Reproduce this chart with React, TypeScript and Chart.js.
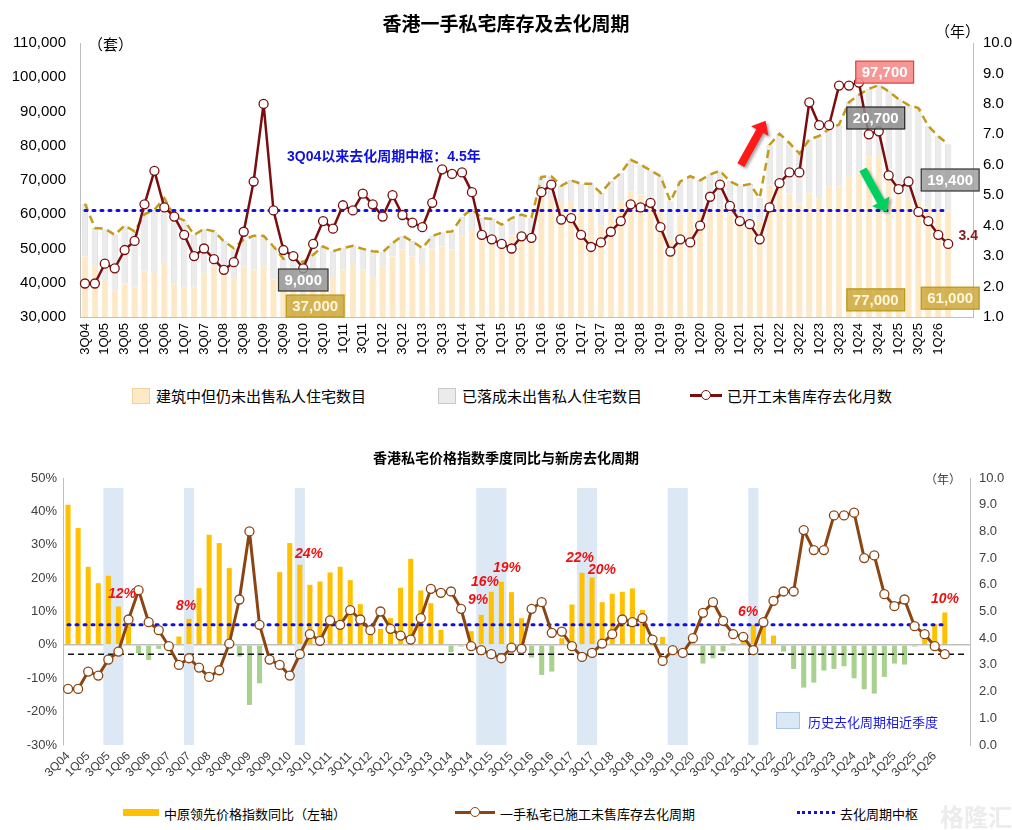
import React, { useEffect, useRef } from "react";
import { Chart, registerables } from "chart.js";
Chart.register(...registerables);

const FONT = '"Liberation Sans", "Noto Sans CJK SC", Arial, sans-serif';

const quarters = [
  "3Q04","4Q04","1Q05","2Q05","3Q05","4Q05","1Q06","2Q06","3Q06","4Q06","1Q07","2Q07","3Q07","4Q07",
  "1Q08","2Q08","3Q08","4Q08","1Q09","2Q09","3Q09","4Q09","1Q10","2Q10","3Q10","4Q10",
  "1Q11","2Q11","3Q11","4Q11","1Q12","2Q12","3Q12","4Q12","1Q13","2Q13","3Q13","4Q13",
  "1Q14","2Q14","3Q14","4Q14","1Q15","2Q15","3Q15","4Q15","1Q16","2Q16","3Q16","4Q16",
  "1Q17","2Q17","3Q17","4Q17","1Q18","2Q18","3Q18","4Q18","1Q19","2Q19","3Q19","4Q19",
  "1Q20","2Q20","3Q20","4Q20","1Q21","2Q21","3Q21","4Q21","1Q22","2Q22","3Q22","4Q22",
  "1Q23","2Q23","3Q23","4Q23","1Q24","2Q24","3Q24","4Q24","1Q25","2Q25","3Q25","4Q25",
  "1Q26","2Q26","",""
];

// years of inventory (已开工未售库存去化周期)
const cycleYears = [
  2.1,2.1,2.75,2.6,3.2,3.5,4.7,5.8,4.6,4.3,3.7,3.0,3.25,2.9,2.55,2.8,3.8,5.45,8.0,4.5,3.2,3.0,2.6,3.4,4.15,3.9,
  4.67,4.5,5.05,4.7,4.3,5.0,4.35,4.1,3.95,4.75,5.85,5.7,5.75,5.1,3.7,3.55,3.4,3.25,3.65,3.6,5.1,5.35,4.2,4.25,3.7,3.3,3.45,3.8,4.15,4.7,4.6,4.75,3.95,
  3.15,3.55,3.45,4.0,4.95,5.35,4.65,4.15,4.05,3.55,4.6,5.4,5.75,5.75,8.05,7.3,7.3,8.6,8.6,8.7,7.0,7.1,5.65,5.2,5.45,4.45,4.15,3.7,3.4
];

// 建筑中但仍未出售私人住宅数目
const underConstruction = [
  47700,45000,40700,37800,39700,38800,43600,42800,45800,39700,38800,38800,42800,44800,43800,41700,44800,43800,44800,40900,38500,37500,37000,39000,41900,41700,
  43800,45800,43800,41700,44800,47700,49700,47700,45800,49900,50600,49700,53700,55700,53700,52800,52100,53700,54500,54000,65700,64700,63300,63800,61300,60800,56700,61300,63800,66700,65700,63800,61800,
  52800,59900,60800,60400,61300,61800,59900,56700,56000,57900,68600,68900,66000,63100,66000,64700,68200,68000,71100,71800,76900,77000,73000,65700,64700,63800,62300,61300,61000
];

// total unsold (under construction + completed)
const totalUnsold = [
  63100,56000,55800,54000,56700,55000,60000,61300,64700,59400,58200,54000,55700,55000,52100,50100,52600,53700,53700,50600,47000,47700,46000,48200,50600,49200,
  50100,50800,49900,49200,48900,51600,53700,52100,50100,53600,54700,55000,59200,61500,58900,58600,57000,58900,59900,58900,70900,71100,68300,69900,68900,68900,66200,69600,72000,75900,74500,72800,71100,
  63800,69600,71100,69900,71600,72700,69600,68200,68800,64700,80300,83500,80800,77700,81800,82900,84900,86200,92700,94900,96600,97700,95900,93600,91900,91000,85700,82800,80400
];
const completedUnsold = totalUnsold.map((t, i) => t - underConstruction[i]);

// 中原领先价格指数同比 (%)
const priceYoY = [
  42,35,23.4,18.5,20.7,11.5,6,-2.5,-4.5,-1.2,0,2.5,7.8,17,33,30.5,23,-3.5,-18,-11.5,0,21.8,30.5,24,18,19,
  21.7,23.4,19.4,12.2,3,4.8,8,17.1,25.8,16.3,12.5,4.5,-2.2,-0.5,4.1,9,15.9,18.9,15.8,8,-3.8,-9,-8,2,12.1,21.6,20.2,12.8,15.3,15.9,16.9,10.5,0,
  2.4,0,0,0.5,-5.6,-4,-2,0.5,3.5,6,6.2,2.8,-2,-7.2,-12.8,-11.3,-7.7,-7.2,-6.4,-10,-13.3,-14.6,-9.6,-5.6,-5.9,-0.5,2.5,6.2,9.7
];

const pivotYears = 4.5;
const latestYears = 3.4;
const similarQuarters = [[4, 5], [12, 12], [23, 23], [41, 43], [51, 52], [60, 61], [68, 68]];

const topBoxes = [
  { i: 22, v: 40800, text: "9,000", fill: "rgba(150,150,150,0.85)", stroke: "#333", color: "#fff" },
  { i: 23.2, v: 33200, text: "37,000", fill: "rgba(205,168,60,0.85)", stroke: "#b8960c", color: "#fff6dc" },
  { i: 80.6, v: 101500, text: "97,700", fill: "rgba(245,140,140,0.9)", stroke: "#e04040", color: "#fff" },
  { i: 79.7, v: 88100, text: "20,700", fill: "rgba(140,140,140,0.85)", stroke: "#222", color: "#fff" },
  { i: 87.2, v: 70000, text: "19,400", fill: "rgba(160,160,160,0.85)", stroke: "#333", color: "#fff" },
  { i: 79.7, v: 35000, text: "77,000", fill: "rgba(205,168,60,0.85)", stroke: "#b8960c", color: "#fff6dc" },
  { i: 87.2, v: 35500, text: "61,000", fill: "rgba(205,168,60,0.85)", stroke: "#b8960c", color: "#fff6dc" },
];
const topArrows = [
  { from: [66.1, 5.99], to: [68.6, 7.45], color: "#ff1a1a" },
  { from: [78.4, 5.85], to: [80.8, 4.45], color: "#00d060" },
];

const n = cycleYears.length;
const pivotLine = quarters.map((_, i) => (i < n ? pivotYears : null));

const topPlugin = {
  id: "topDecor",
  afterDatasetsDraw(chart: any) {
    const ctx = chart.ctx;
    const x = chart.scales.x, y = chart.scales.y, y1 = chart.scales.y1;
    ctx.save();
    topArrows.forEach((a) => {
      const x0 = x.getPixelForValue(a.from[0]), y0 = y1.getPixelForValue(a.from[1]);
      const x2 = x.getPixelForValue(a.to[0]), y2 = y1.getPixelForValue(a.to[1]);
      const ang = Math.atan2(y2 - y0, x2 - x0);
      const len = Math.hypot(x2 - x0, y2 - y0);
      ctx.save();
      ctx.translate(x0, y0);
      ctx.rotate(ang);
      ctx.fillStyle = a.color;
      ctx.shadowColor = "rgba(0,0,0,0.35)";
      ctx.shadowBlur = 3; ctx.shadowOffsetX = 2; ctx.shadowOffsetY = 2;
      ctx.beginPath();
      ctx.moveTo(0, -4); ctx.lineTo(len - 12, -4); ctx.lineTo(len - 12, -10);
      ctx.lineTo(len, 0); ctx.lineTo(len - 12, 10); ctx.lineTo(len - 12, 4); ctx.lineTo(0, 4);
      ctx.closePath(); ctx.fill();
      ctx.restore();
    });
    ctx.font = `bold 15px ${FONT}`;
    ctx.textAlign = "center"; ctx.textBaseline = "middle";
    topBoxes.forEach((b) => {
      const cx = x.getPixelForValue(b.i), cy = y.getPixelForValue(b.v);
      const w = ctx.measureText(b.text).width + 12, h = 22;
      ctx.fillStyle = b.fill; ctx.fillRect(cx - w / 2, cy - h / 2, w, h);
      ctx.strokeStyle = b.stroke; ctx.lineWidth = 1.2; ctx.strokeRect(cx - w / 2, cy - h / 2, w, h);
      ctx.fillStyle = b.color; ctx.fillText(b.text, cx, cy + 1);
    });
    const lx = x.getPixelForValue(n - 1) + 20, ly = y1.getPixelForValue(cycleYears[n - 1]) - 8;
    ctx.fillStyle = "#8b1a1a"; ctx.font = `bold 14px ${FONT}`;
    ctx.fillText(String(latestYears), lx, ly);
    ctx.restore();
  },
};

const bottomPlugin = {
  id: "shade",
  beforeDatasetsDraw(chart: any) {
    const ctx = chart.ctx;
    const x = chart.scales.x, y = chart.scales.y;
    ctx.save();
    ctx.fillStyle = "#dce9f5";
    const top = y.getPixelForValue(47), bot = chart.chartArea.bottom;
    similarQuarters.forEach(([a, b]) => {
      const x0 = x.getPixelForValue(a - 0.5), x1 = x.getPixelForValue(b + 0.5);
      ctx.fillRect(x0, top, x1 - x0, bot - top);
    });
    ctx.restore();
  },
};

function TopChart() {
  const ref = useRef<HTMLCanvasElement>(null);
  useEffect(() => {
    const chart = new Chart(ref.current!, {
      type: "bar",
      data: {
        labels: quarters,
        datasets: [
          { type: "line", label: "去化", data: cycleYears, yAxisID: "y1", borderColor: "#7a0e0e", borderWidth: 2.5, borderJoinStyle: "round",
            pointRadius: 4.5, pointBackgroundColor: "#fff", pointBorderColor: "#7a0e0e", pointBorderWidth: 1.3, tension: 0, order: 0 } as any,
          { type: "line", label: "中枢", data: pivotLine, yAxisID: "y1", borderColor: "#1010e0", borderWidth: 3,
            borderDash: [2, 6], borderCapStyle: "round", pointRadius: 0, order: 1 } as any,
          { type: "line", label: "total", data: totalUnsold, yAxisID: "y", stack: "tot", borderColor: "#c49a1a", borderWidth: 2.5,
            borderDash: [8, 5], pointRadius: 0, order: 2 } as any,
          { label: "建筑中", data: underConstruction, backgroundColor: "#fde9c6", borderColor: "#f5d9a8", borderWidth: 0.5,
            stack: "a", barPercentage: 0.62, categoryPercentage: 1, order: 3 },
          { label: "已落成", data: completedUnsold, backgroundColor: "#ebebeb", borderColor: "#c8c8c8", borderWidth: 0.6,
            stack: "a", barPercentage: 0.62, categoryPercentage: 1, order: 3 },
        ],
      },
      options: {
        animation: false, responsive: false,
        layout: { padding: { top: 43, left: 0, right: 0, bottom: 0 } },
        plugins: { legend: { display: false }, tooltip: { enabled: false } },
        scales: {
          x: {
            stacked: true, grid: { display: false, drawTicks: false },
            border: { color: "#bfbfbf" },
            ticks: { autoSkip: false, minRotation: 90, maxRotation: 90, padding: 6, color: "#000",
              font: { size: 13, family: FONT },
              callback: (_v: any, i: number) => (i % 2 === 0 && i < n ? quarters[i] : "") },
            afterFit: (s: any) => { s.height = 58; },
          },
          y: {
            stacked: true, min: 30000, max: 110000, position: "left",
            grid: { display: false, drawTicks: false }, border: { color: "#bfbfbf" },
            ticks: { stepSize: 10000, padding: 14, color: "#000", font: { size: 15, family: FONT },
              callback: (v: any) => Number(v).toLocaleString("en-US") },
            afterFit: (s: any) => { s.width = 80; },
          },
          y1: {
            min: 1, max: 10, position: "right",
            grid: { display: false, drawTicks: false }, border: { color: "#bfbfbf" },
            ticks: { stepSize: 1, padding: 10, color: "#000", font: { size: 15, family: FONT },
              callback: (v: any) => Number(v).toFixed(1) },
            afterFit: (s: any) => { s.width = 39; },
          },
        },
      },
      plugins: [topPlugin],
    });
    return () => chart.destroy();
  }, []);
  return <canvas ref={ref} width={1012} height={375} style={{ position: "absolute", left: 0, top: 0 }} />;
}

function BottomChart() {
  const ref = useRef<HTMLCanvasElement>(null);
  useEffect(() => {
    const chart = new Chart(ref.current!, {
      type: "bar",
      data: {
        labels: quarters,
        datasets: [
          { type: "line", label: "去化", data: cycleYears, yAxisID: "y1", borderColor: "#8b4513", borderWidth: 3, borderJoinStyle: "round",
            pointRadius: 4.5, pointBackgroundColor: "#fff", pointBorderColor: "#8b4513", pointBorderWidth: 1.3, tension: 0, order: 0 } as any,
          { type: "line", label: "中枢", data: pivotLine, yAxisID: "y1", borderColor: "#1010e0", borderWidth: 3,
            borderDash: [2, 6], borderCapStyle: "round", pointRadius: 0, order: 1 } as any,
          { type: "line", label: "latest", data: quarters.map(() => latestYears), yAxisID: "y1", borderColor: "#111",
            borderWidth: 1.5, borderDash: [6, 4], pointRadius: 0, order: 2 } as any,
          { label: "同比", data: priceYoY, backgroundColor: priceYoY.map((v) => (v >= 0 ? "#ffc000" : "#a9d18e")),
            barPercentage: 0.5, categoryPercentage: 1, order: 3 },
        ],
      },
      options: {
        animation: false, responsive: false,
        layout: { padding: { top: 38, left: 0, right: 0, bottom: 0 } },
        plugins: { legend: { display: false }, tooltip: { enabled: false } },
        scales: {
          x: {
            grid: { display: false, drawTicks: false }, border: { display: false },
            ticks: { autoSkip: false, minRotation: 45, maxRotation: 45, padding: 4, color: "#404040",
              font: { size: 12, family: FONT },
              callback: (_v: any, i: number) => (i % 2 === 0 && i < n ? quarters[i] : "") },
            afterFit: (s: any) => { s.height = 55; },
          },
          y: {
            min: -30, max: 50, position: "left",
            grid: { drawTicks: false, color: (c: any) => (c.tick && c.tick.value === 0 ? "#bfbfbf" : "transparent"), lineWidth: 1.5 },
            border: { color: "#bfbfbf" },
            ticks: { stepSize: 10, padding: 6, color: "#404040", font: { size: 13, family: FONT },
              callback: (v: any) => `${v}%` },
            afterFit: (s: any) => { s.width = 63; },
          },
          y1: {
            min: 0, max: 10, position: "right",
            grid: { display: false, tickLength: 5, tickColor: "#bfbfbf" }, border: { color: "#bfbfbf" },
            ticks: { stepSize: 1, padding: 4, color: "#404040", font: { size: 13, family: FONT },
              callback: (v: any) => Number(v).toFixed(1) },
            afterFit: (s: any) => { s.width = 42; },
          },
        },
      },
      plugins: [bottomPlugin],
    });
    return () => chart.destroy();
  }, []);
  return <canvas ref={ref} width={1012} height={360} style={{ position: "absolute", left: 0, top: 440 }} />;
}

const redLabels = [
  { t: "12%", x: 122, y: 594 }, { t: "8%", x: 190, y: 606 }, { t: "24%", x: 309, y: 554 },
  { t: "9%", x: 482, y: 600 }, { t: "16%", x: 485, y: 582 }, { t: "19%", x: 507, y: 568 },
  { t: "22%", x: 580, y: 558 }, { t: "20%", x: 602, y: 570 }, { t: "6%", x: 752, y: 612 }, { t: "10%", x: 945, y: 599 },
];

const abs = (l: number, t: number, extra: any = {}) => ({ position: "absolute" as const, left: l, top: t, whiteSpace: "nowrap" as const, fontFamily: FONT, ...extra });

export default function App() {
  return (
    <div style={{ position: "absolute", left: 0, top: 0, width: 1012, height: 830, background: "#fff", overflow: "hidden", fontFamily: FONT }}>
      <TopChart />
      <BottomChart />
      <div style={abs(0, 9, { width: 1012, textAlign: "center", fontSize: 19, fontWeight: "bold" })}>香港一手私宅库存及去化周期</div>
      <div style={abs(88, 33, { fontSize: 15 })}>（套）</div>
      <div style={abs(935, 20, { fontSize: 15 })}>（年）</div>
      <div style={abs(287, 145, { fontSize: 14, fontWeight: "bold", color: "#1010e0" })}>3Q04以来去化周期中枢：4.5年</div>
      <div style={abs(132, 388, { width: 16, height: 14, background: "#fde9c6", border: "1px solid #f0d39a" })} />
      <div style={abs(156, 385, { fontSize: 15 })}>建筑中但仍未出售私人住宅数目</div>
      <div style={abs(438, 388, { width: 16, height: 14, background: "#ebebeb", border: "1px solid #c8c8c8" })} />
      <div style={abs(462, 385, { fontSize: 15 })}>已落成未出售私人住宅数目</div>
      <div style={abs(690, 394, { width: 32, height: 3, background: "#7a0e0e" })} />
      <div style={abs(701, 390, { width: 8, height: 8, borderRadius: 6, background: "#fff", border: "1.5px solid #7a0e0e" })} />
      <div style={abs(727, 385, { fontSize: 15 })}>已开工未售库存去化月数</div>
      <div style={abs(0, 447, { width: 1012, textAlign: "center", fontSize: 14, fontWeight: "bold" })}>香港私宅价格指数季度同比与新房去化周期</div>
      <div style={abs(925, 470, { fontSize: 12, color: "#404040" })}>（年）</div>
      {redLabels.map((r, k) => (
        <div key={k} style={abs(r.x - 14, r.y - 9, { fontSize: 14, fontWeight: "bold", fontStyle: "italic", color: "#ee1111" })}>{r.t}</div>
      ))}
      <div style={abs(776, 712, { width: 22, height: 15, background: "#dce9f5", border: "1px solid #aac8e6" })} />
      <div style={abs(808, 712, { fontSize: 13, color: "#1a1ae0" })}>历史去化周期相近季度</div>
      <div style={abs(123, 809, { width: 36, height: 7, background: "#ffc000" })} />
      <div style={abs(164, 804, { fontSize: 13 })}>中原领先价格指数同比（左轴）</div>
      <div style={abs(455, 811, { width: 40, height: 3, background: "#8b4513" })} />
      <div style={abs(470, 807, { width: 8, height: 8, borderRadius: 6, background: "#fff", border: "1.5px solid #8b4513" })} />
      <div style={abs(500, 804, { fontSize: 13 })}>一手私宅已施工未售库存去化周期</div>
      <div style={abs(797, 811, { width: 38, height: 0, borderTop: "3px dotted #1010e0" })} />
      <div style={abs(840, 804, { fontSize: 13 })}>去化周期中枢</div>
      <div style={abs(940, 798, { fontSize: 24, fontWeight: "bold", color: "#ececec" })}>格隆汇</div>
    </div>
  );
}
